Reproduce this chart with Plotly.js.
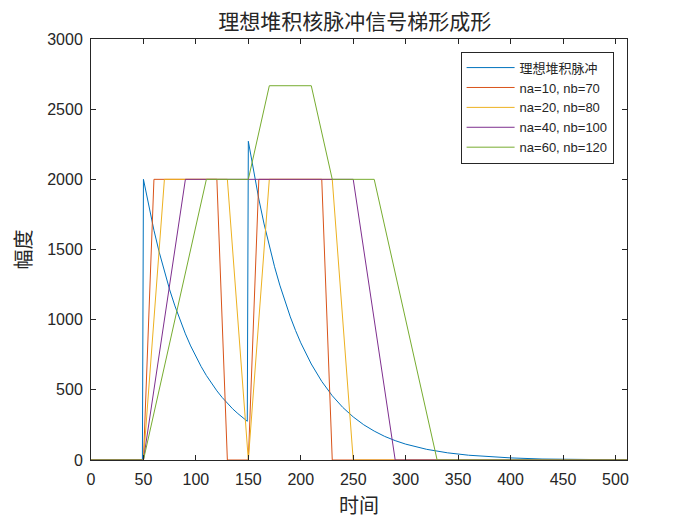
<!DOCTYPE html>
<html>
<head>
<meta charset="utf-8">
<script src="https://cdn.plot.ly/plotly-3.0.1.min.js"></script>
<style>
  html, body { margin: 0; padding: 0; background: #fff; }
  #myDiv { width: 693px; height: 519px; }
</style>
</head>
<body>
<div id="myDiv"></div>
<script>
// ideal pile-up pulse
var ideal_x = [0, 49, 50, 55, 60, 65, 70, 75, 80, 85, 90, 95, 100, 105, 110, 115, 120, 125, 130, 135, 140, 145, 149,
  150, 155, 160, 165, 170, 175, 180, 185, 190, 195, 200, 210, 220, 230, 240, 250, 260, 270, 280, 290, 300,
  320, 340, 360, 380, 400, 430, 460, 500, 511];
var ideal_y = [0, 0, 2000, 1810, 1637, 1482, 1341, 1213, 1098, 993, 899, 813, 736, 666, 602, 545, 493, 446, 404, 365, 331, 299, 276,
  2271, 2055, 1859, 1682, 1522, 1377, 1246, 1128, 1020, 923, 835, 684, 560, 458, 375, 307, 251, 206, 168, 138, 113,
  76, 51, 34, 23, 15, 7, 3, 1, 1];

// trapezoid outputs
var t1_x = [0, 50, 60, 120, 130, 150, 160, 220, 230, 511];
var t1_y = [0, 0, 2000, 2000, 0, 0, 2000, 2000, 0, 0];

var t2_x = [0, 50, 70, 130, 150, 170, 230, 250, 511];
var t2_y = [0, 0, 2000, 2000, 0, 2000, 2000, 0, 0];

var t3_x = [0, 50, 90, 250, 290, 511];
var t3_y = [0, 0, 2000, 2000, 0, 0];

var t4_x = [0, 50, 110, 150, 170, 210, 230, 270, 330, 511];
var t4_y = [0, 0, 2000, 2000, 2667, 2667, 2000, 2000, 0, 0];

var names = ['理想堆积脉冲', 'na=10, nb=70', 'na=20, nb=80', 'na=40, nb=100', 'na=60, nb=120'];
var colors = ['#0072BD', '#D95319', '#EDB120', '#7E2F8E', '#77AC30'];

var xs = [ideal_x, t1_x, t2_x, t3_x, t4_x];
var ys = [ideal_y, t1_y, t2_y, t3_y, t4_y];

var traces = xs.map(function(x, i) {
  return {
    x: x,
    y: ys[i],
    type: 'scatter',
    mode: 'lines',
    name: names[i],
    line: { color: colors[i], width: 1 }
  };
});

var tickFont = { family: 'Liberation Sans, Arial, sans-serif', size: 16, color: '#262626' };
var cjk = 'Noto Sans CJK SC, sans-serif';

var layout = {
  width: 693,
  height: 519,
  paper_bgcolor: '#ffffff',
  plot_bgcolor: '#ffffff',
  margin: { l: 91, r: 66, t: 39, b: 59 },
  title: {
    text: '理想堆积核脉冲信号梯形成形',
    font: { family: cjk, size: 21, color: '#262626' },
    x: 0.512, xanchor: 'center',
    y: 0.958, yanchor: 'middle'
  },
  xaxis: {
    range: [0, 511],
    tickvals: [0, 50, 100, 150, 200, 250, 300, 350, 400, 450, 500],
    ticks: 'inside', ticklen: 5, tickcolor: '#262626',
    showline: true, linecolor: '#262626', linewidth: 1, mirror: 'ticks',
    showgrid: false, zeroline: false,
    tickfont: tickFont,
    ticklabelstandoff: 5,
    title: { text: '时间', font: { family: cjk, size: 20, color: '#262626' }, standoff: 12 }
  },
  yaxis: {
    range: [0, 3000],
    tickvals: [0, 500, 1000, 1500, 2000, 2500, 3000],
    ticks: 'inside', ticklen: 5, tickcolor: '#262626',
    showline: true, linecolor: '#262626', linewidth: 1, mirror: 'ticks',
    showgrid: false, zeroline: false,
    tickfont: tickFont,
    ticklabelstandoff: 4,
    title: { text: '幅度', font: { family: cjk, size: 20, color: '#262626' }, standoff: 10 }
  },
  showlegend: true,
  legend: {
    x: 0.975, xanchor: 'right',
    y: 0.97, yanchor: 'top',
    bgcolor: '#ffffff',
    bordercolor: '#262626',
    borderwidth: 1,
    itemwidth: 48,
    font: { family: 'Liberation Sans, Arial, ' + cjk, size: 13, color: '#262626' },
    tracegroupgap: 0
  }
};

Plotly.newPlot('myDiv', traces, layout, { displayModeBar: false, staticPlot: true });
</script>
</body>
</html>
